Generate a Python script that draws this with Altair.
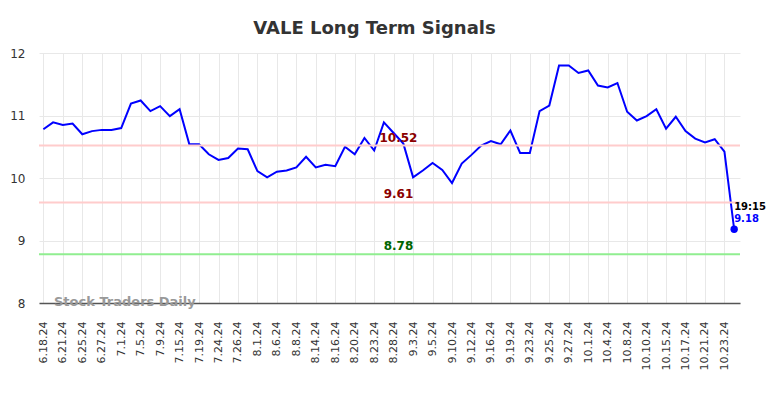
import json
import altair as alt
import pandas as pd

tick_labels = ["6.18.24", "6.21.24", "6.25.24", "6.27.24", "7.1.24", "7.5.24", "7.9.24",
               "7.15.24", "7.19.24", "7.24.24", "7.26.24", "8.1.24", "8.6.24", "8.8.24",
               "8.14.24", "8.16.24", "8.20.24", "8.23.24", "8.28.24", "9.3.24", "9.5.24",
               "9.10.24", "9.12.24", "9.16.24", "9.19.24", "9.23.24", "9.25.24", "9.27.24",
               "10.1.24", "10.4.24", "10.8.24", "10.10.24", "10.15.24", "10.17.24",
               "10.21.24", "10.23.24"]

prices = [10.78, 10.89, 10.85, 10.87, 10.70, 10.75, 10.77, 10.77, 10.80, 11.19,
          11.24, 11.07, 11.15, 10.99, 11.10, 10.54, 10.54, 10.38, 10.29, 10.32,
          10.47, 10.46, 10.11, 10.01, 10.10, 10.12, 10.17, 10.34, 10.17, 10.21,
          10.19, 10.50, 10.38, 10.64, 10.44, 10.89, 10.72, 10.55, 10.01, 10.12,
          10.24, 10.13, 9.92, 10.23, 10.37, 10.52, 10.59, 10.54, 10.76, 10.40,
          10.40, 11.07, 11.16, 11.80, 11.80, 11.68, 11.72, 11.48, 11.45, 11.52,
          11.06, 10.92, 10.99, 11.10, 10.79, 10.98, 10.75, 10.63, 10.57, 10.62,
          10.42, 9.18]

signal_levels = [10.52, 9.61, 8.78]
signal_line_colors = ["#ffcccc", "#ffcccc", "#90ee90"]
signal_text_colors = ["#8b0000", "#8b0000", "#006400"]
last_time = "19:15"

FONT = "DejaVu Sans"
n = len(prices)
df = pd.DataFrame({"i": list(range(n)), "price": prices})
label_x = (n - 1) / 2 + 1
sig = pd.DataFrame({"level": signal_levels, "lc": signal_line_colors,
                    "tc": signal_text_colors,
                    "txt": [f"{v:.2f}" for v in signal_levels],
                    "x": [label_x] * len(signal_levels)})
last = pd.DataFrame({"i": [n - 1], "price": [prices[-1]],
                     "t": [last_time], "p": [f"{prices[-1]:.2f}"]})

label_expr = json.dumps(tick_labels) + "[datum.value / 2]"
xscale = alt.Scale(domain=[-0.45, n - 0.4], nice=False, zero=False)
yscale = alt.Scale(domain=[8, 12], nice=False, zero=False)

xaxis = alt.Axis(values=list(range(0, 2 * len(tick_labels), 2)), labelExpr=label_expr,
                 labelAngle=-90, labelFont=FONT, labelFontSize=11, labelColor="#333",
                 labelPadding=18, ticks=False, grid=True, gridColor="#e8e8e8",
                 domainColor="#555", domainWidth=1.5, title=None, labelOverlap=False)
yaxis = alt.Axis(values=[8, 9, 10, 11, 12], format="d", labelFont=FONT, labelFontSize=12,
                 labelColor="#333", ticks=False, domain=False, grid=True,
                 gridColor="#e8e8e8", labelPadding=14, title=None, labelOverlap=False)

X = lambda f: alt.X(f, scale=xscale, axis=xaxis)
Y = lambda f: alt.Y(f, scale=yscale, axis=yaxis)

line = alt.Chart(df).mark_line(color="#0000ff", strokeWidth=2).encode(
    x=X("i:Q"), y=Y("price:Q"))

rules = alt.Chart(sig).mark_rule(strokeWidth=2).encode(
    y=Y("level:Q"),
    color=alt.Color("lc:N", scale=None),
)
rule_text = alt.Chart(sig).mark_text(font=FONT, fontSize=12, fontWeight="bold",
                                     dy=-8, align="center").encode(
    x=X("x:Q"), y=Y("level:Q"), text="txt:N",
    color=alt.Color("tc:N", scale=None),
)

dot = alt.Chart(last).mark_circle(size=55, color="#0000ff", opacity=1).encode(
    x=X("i:Q"), y=Y("price:Q"))
t1 = alt.Chart(last).mark_text(font=FONT, fontSize=10, fontWeight="bold", color="#000",
                               align="left", dx=0, dy=-22).encode(
    x=X("i:Q"), y=Y("price:Q"), text="t:N")
t2 = alt.Chart(last).mark_text(font=FONT, fontSize=10, fontWeight="bold", color="#0000ff",
                               align="left", dx=0, dy=-10).encode(
    x=X("i:Q"), y=Y("price:Q"), text="p:N")

wm = alt.Chart(last).mark_text(font=FONT, fontSize=13, fontWeight="bold", color="#999",
                               align="left", baseline="middle", text="Stock Traders Daily").encode(
    x=alt.value(15), y=alt.value(249))

chart = alt.layer(line, rules, rule_text, wm, dot, t1, t2).properties(
    width=701, height=250,
    title=alt.TitleParams("VALE Long Term Signals", font=FONT, fontSize=18,
                          fontWeight="bold", color="#333", anchor="middle", dx=-15, offset=9),
    autosize=alt.AutoSizeParams(type="none"),
    padding={"left": 31, "top": 45, "right": 36, "bottom": 80},
).configure_view(stroke=None).configure_axisX(labelOverlap=False)

chart.save("out.html", embed_options={"renderer": "svg", "actions": False})
